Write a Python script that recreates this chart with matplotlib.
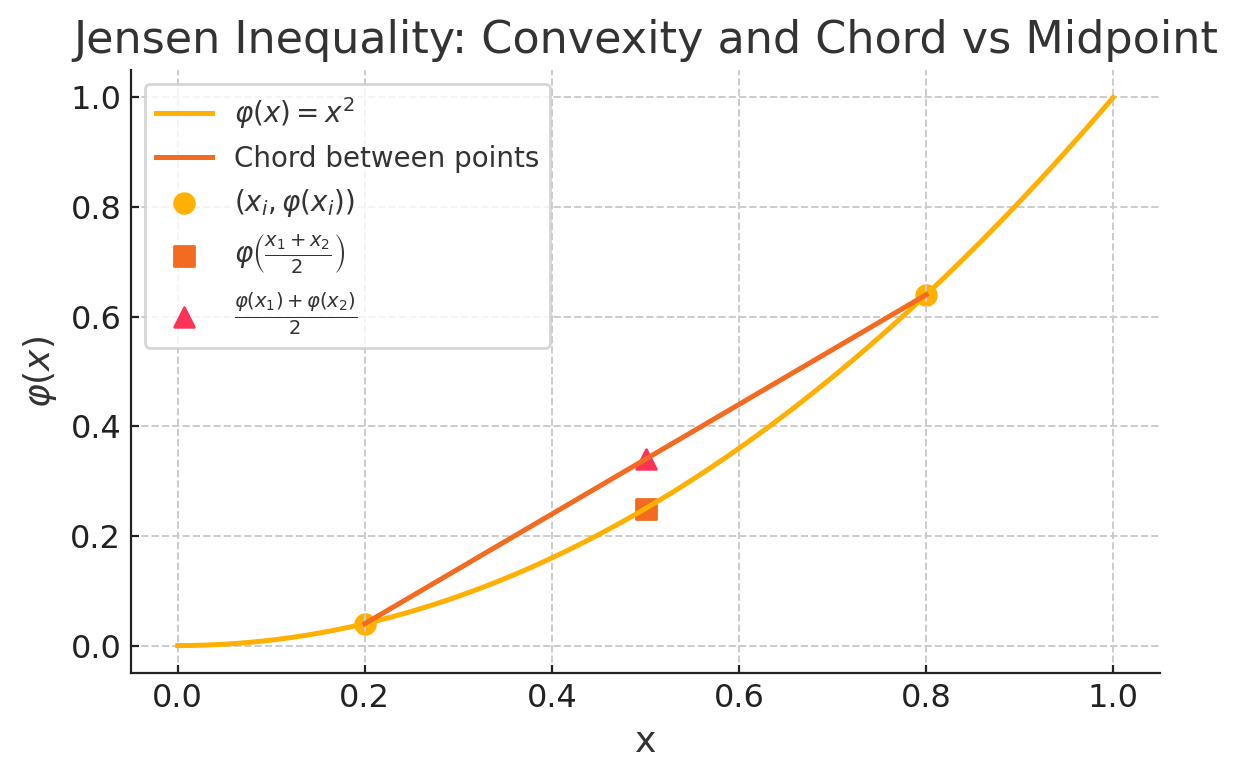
import numpy as np
import matplotlib.pyplot as plt

# points used for the Jensen picture
x_pts = [0.2, 0.8]
y_pts = [0.04, 0.64]
x_mid = [0.5]
phi_mid = [0.25]
chord_mid = [0.34]

c_curve = '#FFB000'
c_chord = '#F26B21'
c_tri = '#FB3358'
txt = '#333333'

plt.rcParams['font.family'] = ['DejaVu Sans']
plt.rcParams['text.color'] = txt
plt.rcParams['axes.labelcolor'] = txt

fig = plt.figure(figsize=(6.19, 3.9), dpi=200)
ax = fig.add_axes([131/1238, 1 - 673/780, (1160-131)/1238, (673-70)/780])

xx = np.linspace(0, 1, 200)
ax.plot(xx, xx**2, color=c_curve, lw=1.8, label=r'$\varphi(x) = x^2$')
ax.plot(x_pts, y_pts, color=c_chord, lw=1.8, label='Chord between points')
ax.scatter(x_pts, y_pts, color=c_curve, s=50, label=r'$(x_i, \varphi(x_i))$')
ax.scatter(x_mid, phi_mid, color=c_chord, marker='s', s=50,
           label=r'$\varphi\left(\frac{x_1 + x_2}{2}\right)$')
ax.scatter(x_mid, chord_mid, color=c_tri, marker='^', s=50,
           label=r'$\frac{\varphi(x_1) + \varphi(x_2)}{2}$')

ax.set_title('Jensen Inequality: Convexity and Chord vs Midpoint', fontsize=16, color=txt)
ax.set_xlabel('x', fontsize=13)
ax.set_ylabel(r'$\varphi(x)$', fontsize=13)
ax.tick_params(labelsize=11.5, colors='#222222', length=3, direction='in')
ax.grid(True, linestyle='--', color='#cccccc', lw=0.7)
ax.spines['top'].set_visible(False)
ax.spines['right'].set_visible(False)
for s in ['left', 'bottom']:
    ax.spines[s].set_color('#222222')
leg = ax.legend(loc='upper left', fontsize=10, framealpha=0.8, edgecolor='#cccccc')
for t in leg.get_texts():
    t.set_color(txt)

plt.savefig('out.png', dpi=200)
